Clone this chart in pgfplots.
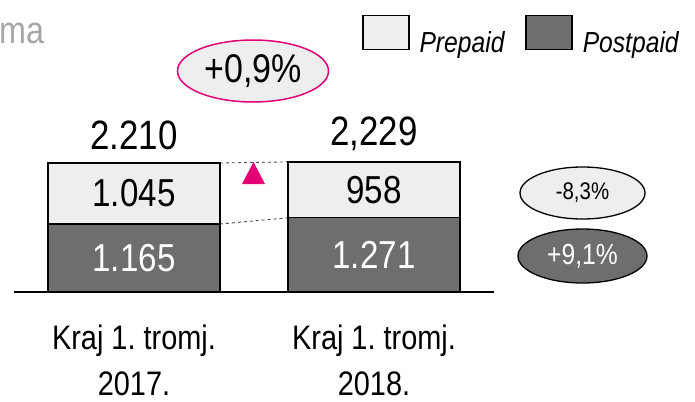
\documentclass[border=0pt]{standalone}
\usepackage{pgfplots}
\pgfplotsset{compat=1.18}
\usepackage{fontspec}
\setmainfont{Liberation Sans}[FakeStretch=0.85]
\usetikzlibrary{shapes.geometric}
\definecolor{prep}{HTML}{EEEEEE}
\definecolor{post}{HTML}{6E6E6E}
\definecolor{tmag}{HTML}{E20074}
\definecolor{titlegray}{HTML}{A6A6A6}
\newcommand{\fs}[1]{\fontsize{#1bp}{#1bp}\selectfont}
\begin{document}
\begin{tikzpicture}[x=1bp,y=1bp]
\begin{axis}[
  scale only axis, width=480bp, height=175.11bp,
  xmin=-0.5, xmax=1.5, ymin=0, ymax=3000,
  enlargelimits=false, clip=false,
  ybar stacked, bar width=172bp,
  axis y line=none, axis x line*=bottom,
  x axis line style={line width=1.5bp, -},
  xtick={0,1}, xtick style={draw=none},
  xticklabels={{Kraj 1.~tromj.\\2017.},{Kraj 1.~tromj.\\2018.}},
  xticklabel style={align=center, font=\fontsize{34bp}{46bp}\selectfont, anchor=north, inner sep=0pt, yshift=-33bp},
  ytick=\empty,
  reverse legend,
  legend style={at={(0.725,1.582)}, anchor=north west, draw=none, fill=none,
    legend columns=2, inner sep=0pt, font=\fs{29}\itshape,
    nodes={inner sep=0pt},
    /tikz/every odd column/.append style={column sep=10bp},
    /tikz/every even column/.append style={column sep=21bp}},
]
\addplot[fill=post, draw=black, line width=1.3bp,
  legend image code/.code={\draw[fill=post, draw=black, line width=1.3bp] (0bp,-7bp) rectangle (46bp,27bp);}]
  coordinates {(0,1165) (1,1271)};
\addlegendentry{Postpaid}
\addplot[fill=prep, draw=black, line width=1.3bp,
  legend image code/.code={\draw[fill=prep, draw=black, line width=1.3bp] (0bp,-7bp) rectangle (46bp,27bp);}]
  coordinates {(0,1045) (1,958)};
\addlegendentry{Prepaid}
% anchor points for the segment values
\coordinate (v1) at (axis cs:0,582.5);
\coordinate (v2) at (axis cs:1,635.5);
\coordinate (v3) at (axis cs:0,1687.5);
\coordinate (v4) at (axis cs:1,1750);
% totals
\node[anchor=base, yshift=14bp, font=\fs{41}, inner sep=0pt] at (axis cs:0,2210) {2.210};
\node[anchor=base, yshift=16bp, font=\fs{41}, inner sep=0pt] at (axis cs:1,2229) {2,229};
\draw[dashed, line width=0.9bp, black!70] (axis cs:0.3583,2210) -- (axis cs:0.6417,2229);
\draw[dashed, line width=0.9bp, black!70] (axis cs:0.3583,1165) -- (axis cs:0.6417,1271);
\coordinate (O) at (rel axis cs:0,0);
\end{axis}
\node[font=\fs{39}, text=white, inner sep=0pt] at (v1) {1.165};
\node[font=\fs{39}, text=white, inner sep=0pt] at (v2) {1.271};
\node[font=\fs{39}, text=black, inner sep=0pt] at (v3) {1.045};
\node[font=\fs{39}, text=black, inner sep=0pt] at (v4) {958};
\pgfresetboundingbox
\begin{scope}[shift={(O)}, xshift=-14bp, yshift=-109bp]
\path[use as bounding box] (0,0) rectangle (695,401);
\node[anchor=base west, inner sep=0pt, text=titlegray, font=\fs{38}] at (-1,358) {ma};
\node[ellipse, draw=tmag, line width=1.5bp, fill=prep, minimum width=151bp, minimum height=62bp, inner sep=0pt, font=\fs{40}] at (253,330) {+0,9\%};
\fill[tmag] (242,217) -- (265,217) -- (253.5,239) -- cycle;
\node[ellipse, draw=black, line width=1.3bp, fill=prep, minimum width=125bp, minimum height=52bp, inner sep=0pt, font=\fs{24}] at (582.5,208) {-8,3\%};
\node[ellipse, draw=black, line width=1.3bp, fill=post, text=white, minimum width=129bp, minimum height=54bp, inner sep=0pt, font=\fs{29}] at (582.5,145) {+9,1\%};
\end{scope}
\end{tikzpicture}
\end{document}
